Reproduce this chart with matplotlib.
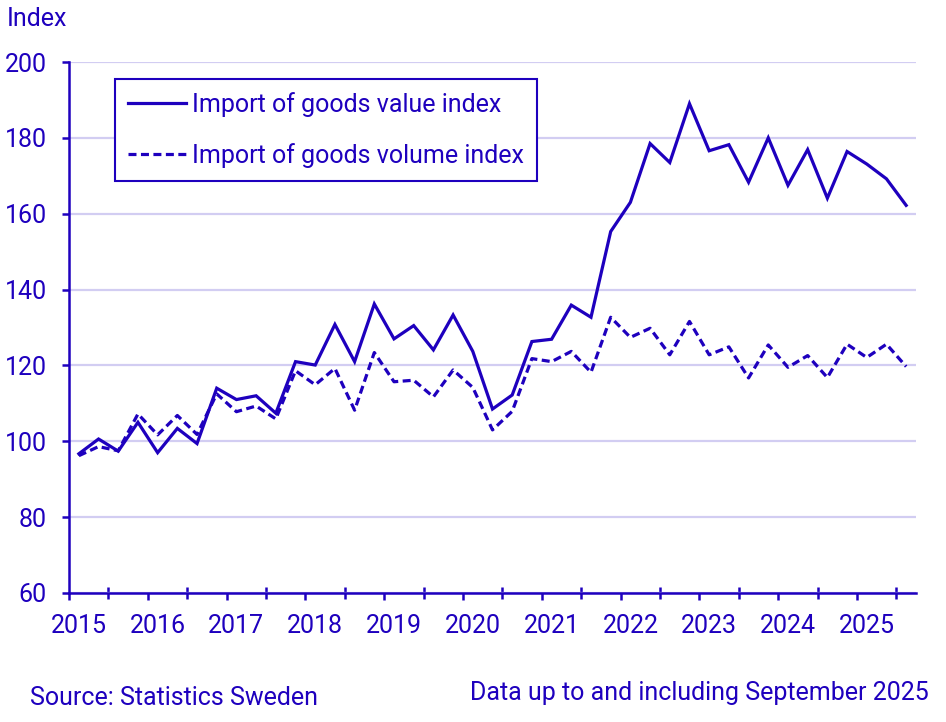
import numpy as np
import matplotlib
matplotlib.use("Agg")
import matplotlib.pyplot as plt

# Quarterly index values, 2015Q1 - 2025Q3
years = list(range(2015, 2026))

value_index = [
    96.7, 100.6, 97.4, 105.0,     # 2015
    97.0, 103.4, 99.4, 114.0,     # 2016
    111.0, 112.0, 107.4, 121.0,   # 2017
    120.1, 130.8, 121.0, 136.2,   # 2018
    127.0, 130.5, 124.1, 133.3,   # 2019
    123.7, 108.5, 112.2, 126.3,   # 2020
    126.9, 135.9, 132.7, 155.3,   # 2021
    163.0, 178.5, 173.5, 189.0,   # 2022
    176.6, 178.2, 168.3, 180.0,   # 2023
    167.5, 176.9, 164.1, 176.4,   # 2024
    173.1, 169.2, 162.2,          # 2025
]

volume_index = [
    96.2, 98.6, 97.5, 107.2,
    101.7, 106.8, 101.8, 112.5,
    107.8, 109.3, 105.9, 118.6,
    114.9, 119.2, 108.2, 123.4,
    115.7, 116.1, 111.7, 118.8,
    114.2, 103.0, 107.9, 121.8,
    121.0, 123.7, 118.2, 132.7,
    127.4, 129.8, 122.8, 131.6,
    122.8, 124.9, 116.7, 125.4,
    119.5, 122.6, 116.8, 125.6,
    122.1, 125.6, 119.7,
]

y_ticks = [60, 80, 100, 120, 140, 160, 180, 200]

BLUE = "#1E00BE"
GRID = "#D2CDF2"
FS = 18

plt.rcParams['font.family'] = ['Roboto', 'DejaVu Sans']
plt.rcParams['font.size'] = FS

fig = plt.figure(figsize=(9.46, 7.22), dpi=100)
ax = fig.add_axes([69 / 946, 1 - 593 / 722, 847 / 946, 531 / 722])

x = np.arange(len(value_index))
ax.plot(x, value_index, color=BLUE, lw=2.3, label="Import of goods value index",
        solid_joinstyle="miter", zorder=3)
ax.plot(x, volume_index, color=BLUE, lw=2.3, linestyle=(0, (2.5, 1.4)),
        label="Import of goods volume index", zorder=3)

ax.set_xlim(-0.5, len(value_index) - 0.5)
ax.set_ylim(60, 200)
ax.set_yticks(y_ticks)
ax.yaxis.grid(True, color=GRID, lw=1.6)
ax.set_axisbelow(True)

for s in ["top", "right"]:
    ax.spines[s].set_visible(False)
for s in ["left", "bottom"]:
    ax.spines[s].set_color(BLUE)
    ax.spines[s].set_linewidth(1.8)

ax.tick_params(axis="y", colors=BLUE, length=5, width=1.8, pad=11, labelsize=FS)

# year boundaries (out) and mid-year ticks (crossing)
n_years = len(years)
ax.set_xticks([4 * k - 0.5 for k in range(n_years)])
ax.set_xticks([4 * k + 1.5 for k in range(n_years)], minor=True)
ax.tick_params(axis="x", which="major", colors=BLUE, length=5, width=1.8,
               labelbottom=False)
ax.tick_params(axis="x", which="minor", colors=BLUE, length=8, width=1.8,
               direction="inout")

sec = ax.secondary_xaxis("bottom")
sec.set_xticks([4 * k for k in range(n_years)])
sec.set_xticklabels([str(y) for y in years])
sec.tick_params(length=0, pad=15, colors=BLUE, labelsize=FS)
sec.spines["bottom"].set_visible(False)

leg = ax.legend(loc="upper left", bbox_to_anchor=(46 / 847, 514 / 531), borderaxespad=0,
                fancybox=False, handlelength=2.3, handletextpad=0.26,
                labelspacing=1.05, borderpad=0.52, fontsize=FS,
                labelcolor=BLUE)
leg.get_frame().set_edgecolor(BLUE)
leg.get_frame().set_linewidth(1.5)
leg.get_frame().set_alpha(1)

fig.text(7 / 946, 1 - 19 / 722, "Index", color=BLUE, fontsize=FS,
         ha="left", va="center")
fig.text(30 / 946, 1 - 698 / 722, "Source: Statistics Sweden", color=BLUE,
         fontsize=FS, ha="left", va="center")
fig.text(929 / 946, 1 - 693 / 722, "Data up to and including September 2025",
         color=BLUE, fontsize=FS, ha="right", va="center")

fig.savefig("out.png", dpi=100)
